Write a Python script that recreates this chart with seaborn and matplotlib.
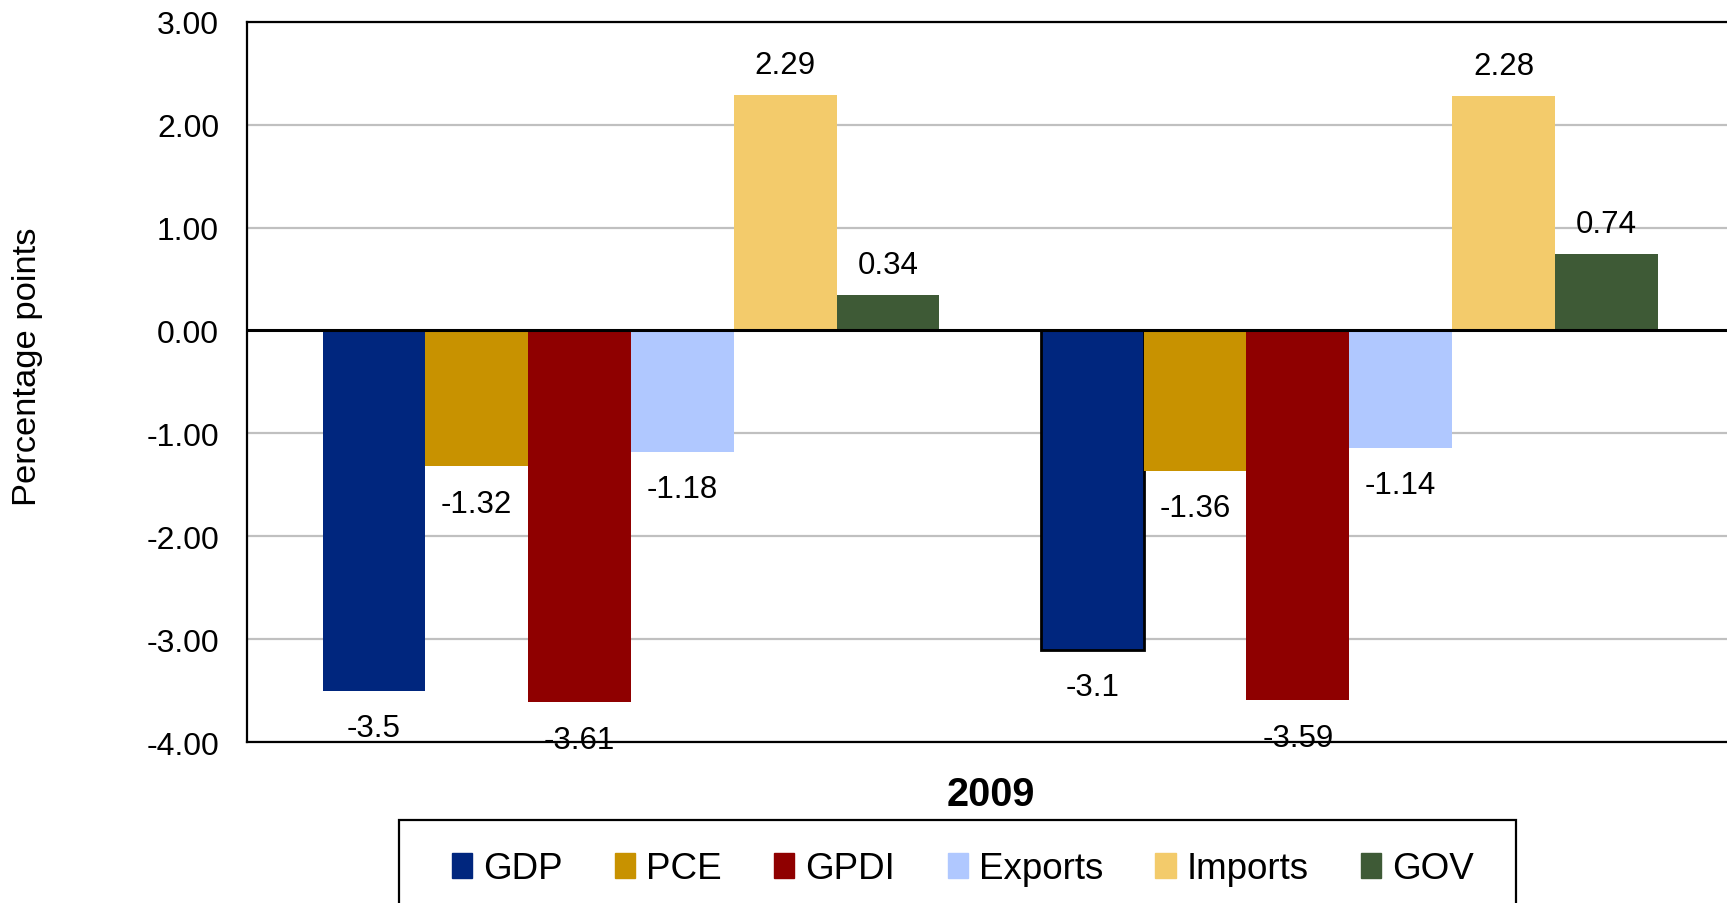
import matplotlib
matplotlib.use("Agg")
import matplotlib.pyplot as plt
import seaborn as sns
import pandas as pd

# ---- data ----
periods = ["2009 (a)", "2009 (b)"]
series = ["GDP", "PCE", "GPDI", "Exports", "Imports", "GOV"]
values_a = [-3.5, -1.32, -3.61, -1.18, 2.29, 0.34]
values_b = [-3.1, -1.36, -3.59, -1.14, 2.28, 0.74]
colors = ["#00267E", "#C89200", "#8F0000", "#B0C8FF", "#F3CB6B", "#3E5A36"]
yticks = [-4, -3, -2, -1, 0, 1, 2, 3]
ytick_labels = ["-4.00", "-3.00", "-2.00", "-1.00", "0.00", "1.00", "2.00", "3.00"]
xlabel = "2009"
ylabel = "Percentage points"

rows = []
for p, vals in zip(periods, [values_a, values_b]):
    for s, v in zip(series, vals):
        rows.append({"period": p, "series": s, "value": v})
df = pd.DataFrame(rows)

sns.set_theme(style="white")
plt.rcParams["font.family"] = ["Liberation Sans", "DejaVu Sans"]
plt.rcParams["text.color"] = "black"
plt.rcParams["axes.labelcolor"] = "black"
plt.rcParams["xtick.color"] = "black"
plt.rcParams["ytick.color"] = "black"

W, H = 1727, 904
fig = plt.figure(figsize=(W / 100, H / 100), dpi=100)
ax = fig.add_axes([0.1429, 0.1777, 0.8571, 0.7973])

sns.barplot(data=df, x="period", y="value", hue="series", hue_order=series,
            order=periods, palette=colors, saturation=1, width=0.859,
            dodge=True, ax=ax, legend=True, linewidth=0, errorbar=None)

# outline on the second GDP bar (as in reference)
gdp_bars = ax.containers[0]
gdp_bars[1].set_edgecolor("black")
gdp_bars[1].set_linewidth(2)

ax.set_ylim(-4, 3)
ax.set_xlim(-0.535, 1.526)
ax.set_yticks(yticks)
ax.set_yticklabels(ytick_labels, fontsize=23, color="black")
ax.tick_params(axis="y", length=0, pad=20)
ax.set_xticks([0, 1])
ax.set_xticklabels(["", ""])
ax.tick_params(axis="x", length=0)

for y in yticks:
    if y == 0:
        continue
    ax.axhline(y, color="#C0C0C0", lw=1.6, zorder=0)
ax.axhline(0, color="black", lw=2.2, zorder=3)

for side in ["left", "top", "bottom"]:
    ax.spines[side].set_visible(True)
    ax.spines[side].set_color("black")
    ax.spines[side].set_linewidth(1.6)
ax.spines["right"].set_visible(False)

# data labels
for cont, s in zip(ax.containers, series):
    i = series.index(s)
    for bar, v in zip(cont, [values_a[i], values_b[i]]):
        cx = bar.get_x() + bar.get_width() / 2
        off = 21.6 if v > 0 else -27.0
        t = ax.annotate(f"{v:g}", xy=(cx, v), xytext=(0, off), textcoords="offset points",
                        ha="center", va="center", fontsize=22.5, color="black",
                        zorder=6, annotation_clip=False)
        t.set_clip_on(False)

ax.set_ylabel("")
fig.text(27.5 / W, 1 - 367 / H, ylabel, rotation=90, ha="center", va="center",
         fontsize=24.8, color="black")

fig.text(991 / W, 1 - 795 / H, xlabel, ha="center", va="center",
         fontsize=28.5, fontweight="bold", color="black")
ax.set_xlabel("")

# legend frame (extends below the image edge like the reference)
frame = plt.Rectangle((399 / W, -0.05), (1516 - 399) / W, (0.05 + 1 - 820.5 / H),
                      transform=fig.transFigure, fill=False, edgecolor="black",
                      linewidth=1.6)
fig.patches.append(frame)

ax.get_legend().remove()
handles = [plt.Rectangle((0, 0), 1, 1, color=c) for c in colors]
leg = fig.legend(handles, series, loc="center", bbox_to_anchor=(963 / W, 1 - 870 / H),
                 ncol=6, fontsize=26.5, frameon=False,
                 handlelength=0.55, handleheight=0.65, handletextpad=0.3,
                 columnspacing=1.42, borderpad=0.0, borderaxespad=0)
for txt in leg.get_texts():
    txt.set_color("black")

fig.savefig("out.png", dpi=100, facecolor="white")
